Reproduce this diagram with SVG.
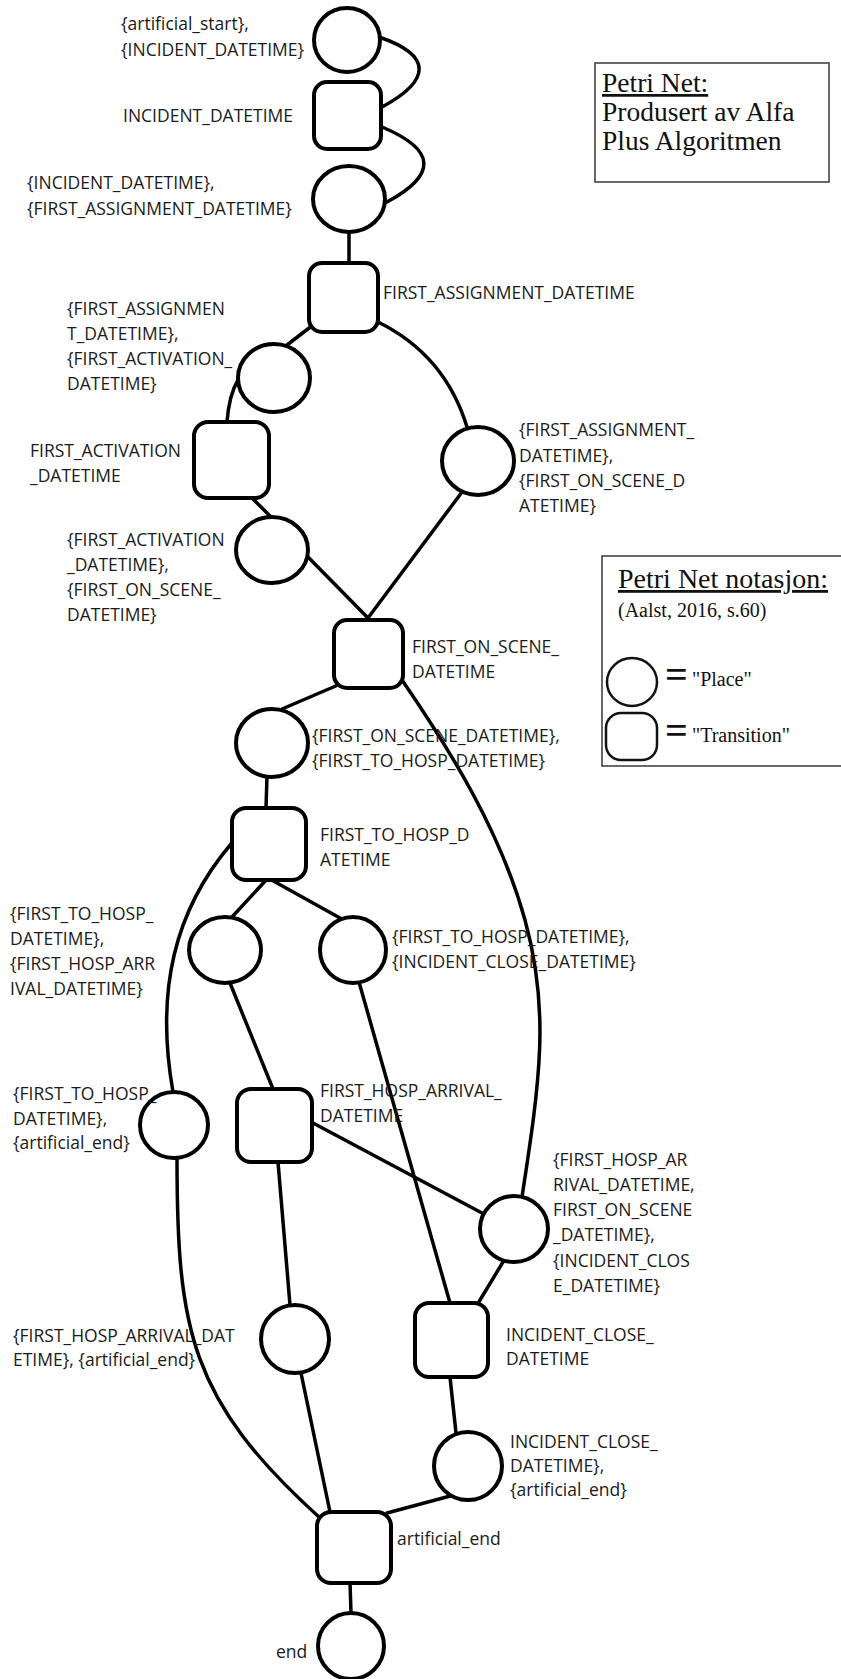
<svg xmlns="http://www.w3.org/2000/svg" width="841" height="1679" viewBox="0 0 841 1679">
<style>
.bg{fill:#fff}
.pl{fill:#fff;stroke:#000;stroke-width:4}
.tr{fill:#fff;stroke:#000;stroke-width:4}
.cn{fill:none;stroke:#000;stroke-width:3.5;stroke-linecap:round}
.lb{font-family:"Open Sans","Noto Sans",sans-serif;font-size:17.5px;fill:#1a1a1a}
.lg{fill:#fff;stroke:#444;stroke-width:1.6}
.sf{font-family:"Liberation Serif","Times New Roman",serif;fill:#111}
.ls{fill:#fff;stroke:#111;stroke-width:2.5}
</style>
<rect class="bg" x="0" y="0" width="841" height="1679"/>
<g id="connectors">
<path class="cn" d="M379,37 C432,55 432,80 382,107"/>
<path class="cn" d="M382,127 C437,150 437,175 387,202"/>
<path class="cn" d="M349,232 L349,263"/>
<path class="cn" d="M313,325 L287,345"/>
<path class="cn" d="M238,380 Q229,395 227,422"/>
<path class="cn" d="M252,498 L271,517"/>
<path class="cn" d="M308,557 L368,618"/>
<path class="cn" d="M378,322 Q445,355 467,427"/>
<path class="cn" d="M465,488 L368,618"/>
<path class="cn" d="M338,685 L282,709"/>
<path class="cn" d="M267,776 L266,808"/>
<path class="cn" d="M402,680 C450,750 500,830 525,920 C550,1010 540,1080 522,1197"/>
<path class="cn" d="M268,878 L232,917"/>
<path class="cn" d="M268,878 L340,918"/>
<path class="cn" d="M231,844 C175,910 155,990 173,1092"/>
<path class="cn" d="M230,983 L273,1089"/>
<path class="cn" d="M359,982 L450,1303"/>
<path class="cn" d="M313,1123 L482,1213"/>
<path class="cn" d="M503,1262 L477,1305"/>
<path class="cn" d="M278,1162 L290,1305"/>
<path class="cn" d="M177,1158 C177,1330 190,1400 319,1517"/>
<path class="cn" d="M301,1373 L330,1512"/>
<path class="cn" d="M454,1495 L387,1513"/>
<path class="cn" d="M450,1377 L456,1433"/>
<path class="cn" d="M350,1582 L351,1613"/>
</g>
<g id="p1"><ellipse class="pl" cx="347" cy="40" rx="33" ry="32"/><text class="lb" x="121" y="30">{artificial_start},</text><text class="lb" x="121" y="56">{INCIDENT_DATETIME}</text></g>
<g id="t1"><rect class="tr" x="314" y="82" width="67" height="67" rx="13"/><text class="lb" x="123" y="122">INCIDENT_DATETIME</text></g>
<g id="p2"><ellipse class="pl" cx="349" cy="199" rx="36" ry="33"/><text class="lb" x="27" y="189">{INCIDENT_DATETIME},</text><text class="lb" x="27" y="215">{FIRST_ASSIGNMENT_DATETIME}</text></g>
<g id="t2"><rect class="tr" x="309" y="263" width="69" height="69" rx="13"/><text class="lb" x="383" y="299">FIRST_ASSIGNMENT_DATETIME</text></g>
<g id="p3"><ellipse class="pl" cx="274" cy="378" rx="36" ry="34"/><text class="lb" x="67" y="315">{FIRST_ASSIGNMEN</text><text class="lb" x="67" y="340">T_DATETIME},</text><text class="lb" x="67" y="365">{FIRST_ACTIVATION_</text><text class="lb" x="67" y="390">DATETIME}</text></g>
<g id="t3"><rect class="tr" x="194" y="422" width="75" height="76" rx="14"/><text class="lb" x="30" y="457">FIRST_ACTIVATION</text><text class="lb" x="30" y="482">_DATETIME</text></g>
<g id="p4"><ellipse class="pl" cx="272" cy="550" rx="36" ry="33"/><text class="lb" x="67" y="546">{FIRST_ACTIVATION</text><text class="lb" x="67" y="571">_DATETIME},</text><text class="lb" x="67" y="596">{FIRST_ON_SCENE_</text><text class="lb" x="67" y="621">DATETIME}</text></g>
<g id="p5"><ellipse class="pl" cx="478" cy="461" rx="36" ry="34"/><text class="lb" x="519" y="436">{FIRST_ASSIGNMENT_</text><text class="lb" x="519" y="462">DATETIME},</text><text class="lb" x="519" y="487">{FIRST_ON_SCENE_D</text><text class="lb" x="519" y="512">ATETIME}</text></g>
<g id="t4"><rect class="tr" x="334" y="620" width="69" height="68" rx="13"/><text class="lb" x="412" y="653">FIRST_ON_SCENE_</text><text class="lb" x="412" y="678">DATETIME</text></g>
<g id="p6"><ellipse class="pl" cx="272" cy="743" rx="36" ry="34"/><text class="lb" x="312" y="742">{FIRST_ON_SCENE_DATETIME},</text><text class="lb" x="312" y="767">{FIRST_TO_HOSP_DATETIME}</text></g>
<g id="t5"><rect class="tr" x="232" y="808" width="74" height="72" rx="14"/><text class="lb" x="320" y="841">FIRST_TO_HOSP_D</text><text class="lb" x="320" y="866">ATETIME</text></g>
<g id="p7"><ellipse class="pl" cx="225" cy="950" rx="36" ry="33"/><text class="lb" x="10" y="920">{FIRST_TO_HOSP_</text><text class="lb" x="10" y="945">DATETIME},</text><text class="lb" x="10" y="970">{FIRST_HOSP_ARR</text><text class="lb" x="10" y="995">IVAL_DATETIME}</text></g>
<g id="p8"><ellipse class="pl" cx="353" cy="950" rx="33" ry="33"/><text class="lb" x="392" y="943">{FIRST_TO_HOSP_DATETIME},</text><text class="lb" x="392" y="968">{INCIDENT_CLOSE_DATETIME}</text></g>
<g id="p9"><ellipse class="pl" cx="174" cy="1125" rx="34" ry="33"/><text class="lb" x="13" y="1100">{FIRST_TO_HOSP_</text><text class="lb" x="13" y="1125">DATETIME},</text><text class="lb" x="13" y="1149">{artificial_end}</text></g>
<g id="t6"><rect class="tr" x="237" y="1089" width="75" height="73" rx="14"/><text class="lb" x="320" y="1097">FIRST_HOSP_ARRIVAL_</text><text class="lb" x="320" y="1122">DATETIME</text></g>
<g id="p10"><ellipse class="pl" cx="514" cy="1229" rx="34" ry="33"/><text class="lb" x="553" y="1166">{FIRST_HOSP_AR</text><text class="lb" x="553" y="1191">RIVAL_DATETIME,</text><text class="lb" x="553" y="1216">FIRST_ON_SCENE</text><text class="lb" x="553" y="1241">_DATETIME},</text><text class="lb" x="553" y="1267">{INCIDENT_CLOS</text><text class="lb" x="553" y="1292">E_DATETIME}</text></g>
<g id="p11"><ellipse class="pl" cx="295" cy="1339" rx="34" ry="34"/><text class="lb" x="13" y="1342">{FIRST_HOSP_ARRIVAL_DAT</text><text class="lb" x="13" y="1366">ETIME}, {artificial_end}</text></g>
<g id="t7"><rect class="tr" x="415" y="1303" width="73" height="74" rx="14"/><text class="lb" x="506" y="1341">INCIDENT_CLOSE_</text><text class="lb" x="506" y="1365">DATETIME</text></g>
<g id="p12"><ellipse class="pl" cx="468" cy="1466" rx="34" ry="34"/><text class="lb" x="510" y="1448">INCIDENT_CLOSE_</text><text class="lb" x="510" y="1472">DATETIME},</text><text class="lb" x="510" y="1496">{artificial_end}</text></g>
<g id="t8"><rect class="tr" x="317" y="1512" width="74" height="71" rx="14"/><text class="lb" x="397" y="1545">artificial_end</text></g>
<g id="p13"><ellipse class="pl" cx="351" cy="1646" rx="33" ry="33"/><text class="lb" x="276" y="1658">end</text></g>
<g id="legend1">
<rect class="lg" x="595" y="63" width="234" height="119"/>
<text class="sf" x="602" y="92" font-size="27.5" text-decoration="underline">Petri Net:</text>
<text class="sf" x="602" y="121" font-size="27.5">Produsert av Alfa</text>
<text class="sf" x="602" y="150" font-size="27.5">Plus Algoritmen</text>
</g>
<g id="legend2">
<rect class="lg" x="602" y="556" width="260" height="210"/>
<text class="sf" x="618" y="588" font-size="28" text-decoration="underline">Petri Net notasjon:</text>
<text class="sf" x="618" y="617" font-size="20" fill="#333">(Aalst, 2016, s.60)</text>
<ellipse class="ls" cx="632" cy="682" rx="25" ry="24"/>
<rect class="ls" x="606" y="713" width="51" height="47" rx="15"/>
<text class="sf" x="665" y="688" font-size="40" font-weight="bold">=</text>
<text class="sf" x="692" y="686" font-size="20">"Place"</text>
<text class="sf" x="665" y="744" font-size="40" font-weight="bold">=</text>
<text class="sf" x="692" y="742" font-size="20">"Transition"</text>
</g>
</svg>
